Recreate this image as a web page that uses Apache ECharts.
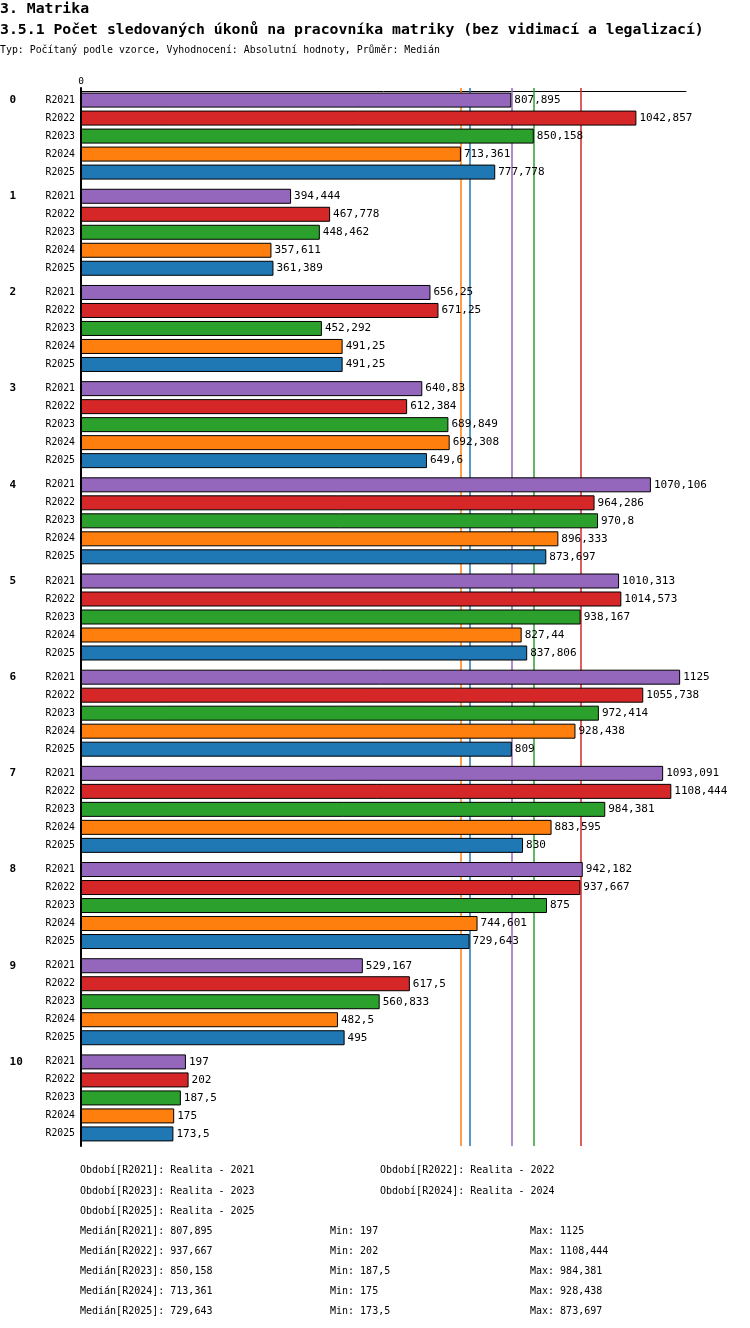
<!DOCTYPE html>
<html>
<head>
<meta charset="utf-8">
<script src="https://cdn.jsdelivr.net/npm/echarts@6/dist/echarts.min.js"></script>
<style>
html,body{margin:0;padding:0;background:#fff;}
#c{width:750px;height:1328px;}
</style>
</head>
<body>
<div id="c"></div>
<script>
var categories = ['0','1','2','3','4','5','6','7','8','9','10'];
var periods = ['R2021','R2022','R2023','R2024','R2025'];
var periodNames = ['Realita - 2021','Realita - 2022','Realita - 2023','Realita - 2024','Realita - 2025'];
var colors = ['#9467bd','#d62728','#2ca02c','#ff7f0e','#1f77b4'];
var r2021 = [807.895,394.444,656.25,640.83,1070.106,1010.313,1125,1093.091,942.182,529.167,197];
var r2022 = [1042.857,467.778,671.25,612.384,964.286,1014.573,1055.738,1108.444,937.667,617.5,202];
var r2023 = [850.158,448.462,452.292,689.849,970.8,938.167,972.414,984.381,875,560.833,187.5];
var r2024 = [713.361,357.611,491.25,692.308,896.333,827.44,928.438,883.595,744.601,482.5,175];
var r2025 = [777.778,361.389,491.25,649.6,873.697,837.806,809,830,729.643,495,173.5];
var medians = [807.895,937.667,850.158,713.361,729.643];
var mins = [197,202,187.5,175,173.5];
var maxs = [1125,1108.444,984.381,928.438,873.697];
var seriesData = [r2021,r2022,r2023,r2024,r2025];

var MONO = '"DejaVu Sans Mono", "Liberation Mono", monospace';
function fmt(v){ return String(v).replace('.', ','); }

var series = periods.map(function(p, i){
  return {
    name: p,
    type: 'bar',
    data: seriesData[i],
    barWidth: 15,
    barGap: '20%',
    z: 3,
    itemStyle: {color: colors[i], borderColor: '#000', borderWidth: 1},
    label: {
      show: true, position: 'right', distance: 3,
      color: '#000', fontFamily: MONO, fontSize: 11,
      formatter: function(pr){ return fmt(pr.value); }
    },
    markLine: {
      z: 1, silent: true, symbol: ['none','none'],
      label: {show: false},
      lineStyle: {color: colors[i], width: 1.5, type: 'solid', opacity: 1},
      data: [{xAxis: medians[i], lineStyle: {color: colors[i], width: 1.5, type: 'solid', opacity: 1}}]
    }
  };
});

var graphics = [];
function txt(x, y, s, size, bold){
  graphics.push({type:'text', left: x, top: y, silent: true,
    style:{text: s, fill:'#000', font: (bold?'bold ':'') + size + 'px ' + MONO}});
}
txt(0, 2, '3. Matrika', 14.8, true);
txt(0, 23, '3.5.1 Počet sledovaných úkonů na pracovníka matriky (bez vidimací a legalizací)', 14.8, true);
txt(0, 45, 'Typ: Počítaný podle vzorce, Vyhodnocení: Absolutní hodnoty, Průměr: Medián', 9.9, false);
var oy = [1165, 1165, 1186, 1186, 1206];
var ox = [80, 380, 80, 380, 80];
periods.forEach(function(p, i){
  txt(ox[i], oy[i], 'Období[' + p + ']: ' + periodNames[i], 10, false);
  var y = 1226 + i * 20;
  txt(80, y, 'Medián[' + p + ']: ' + fmt(medians[i]), 10, false);
  txt(330, y, 'Min: ' + fmt(mins[i]), 10, false);
  txt(530, y, 'Max: ' + fmt(maxs[i]), 10, false);
});

var chart = echarts.init(document.getElementById('c'), null, {renderer:'canvas'});
chart.setOption({
  animation: false,
  backgroundColor: '#fff',
  grid: {left: 81, top: 88, width: 605, height: 1058, containLabel: false},
  xAxis: {
    type: 'value', position: 'top', min: 0, max: 1136, interval: 2000,
    offset: -3,
    axisLine: {show: true, lineStyle: {color: '#000', width: 1}},
    axisTick: {show: false},
    splitLine: {show: false},
    axisLabel: {show: true, showMaxLabel: false, margin: 4, color: '#000', fontFamily: MONO, fontSize: 9.5}
  },
  yAxis: {
    type: 'category', inverse: true, data: categories,
    axisLine: {show: true, lineStyle: {color: '#000', width: 2}},
    axisTick: {show: false},
    splitLine: {show: false},
    axisLabel: {
      show: true, margin: 6, align: 'right', interval: 0,
      formatter: function(v){
        var lines = periods.map(function(p, k){
          return k === 0 ? '{g|' + v + '}{r|' + p + '}' : '{r|' + p + '}';
        });
        return lines.join('\n');
      },
      rich: {
        g: {width: 36, align: 'left', fontFamily: MONO, fontWeight: 'bold', fontSize: 11, lineHeight: 18, color: '#000'},
        r: {align: 'right', fontFamily: MONO, fontSize: 9.8, lineHeight: 18, color: '#000'}
      }
    }
  },
  series: series,
  graphic: graphics
});
</script>
</body>
</html>
